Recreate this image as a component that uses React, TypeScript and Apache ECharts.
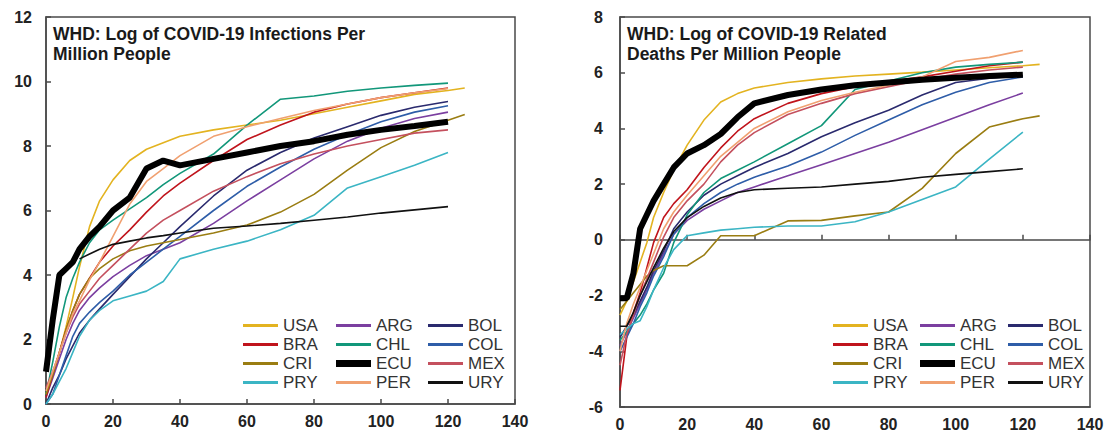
import React, { useEffect, useRef } from "react";
import * as echarts from "echarts";

// Days since first case/death (x axis)
const days = [0, 2, 4, 6, 8, 10, 13, 16, 20, 25, 30, 35, 40, 50, 60, 70, 80, 90, 100, 110, 120, 125];

const xTicks = [0, 20, 40, 60, 80, 100, 120, 140];
const infTicks = [0, 2, 4, 6, 8, 10, 12];
const dthTicks = [-6, -4, -2, 0, 2, 4, 6, 8];

const countries = ["USA", "ARG", "BOL", "BRA", "CHL", "COL", "CRI", "MEX", "PRY", "PER", "URY", "ECU"];

const colors: Record<string, string> = {
  USA: "#E3B320",
  ARG: "#7B3FA0",
  BOL: "#2A2A6E",
  BRA: "#C0141C",
  CHL: "#12977A",
  COL: "#2E5DA8",
  CRI: "#9A7D12",
  ECU: "#000000",
  MEX: "#C4505E",
  PRY: "#3BB5C4",
  PER: "#F0A070",
  URY: "#111111",
};

// Log of infections per million
const infUSA = [0.3, 0.9, 1.6, 2.4, 3.3, 4.25, 5.5, 6.3, 6.95, 7.55, 7.9, 8.1, 8.3, 8.5, 8.65, 8.8, 9.0, 9.2, 9.4, 9.6, 9.72, 9.8];
const infARG = [0.2, 0.8, 1.4, 2.0, 2.5, 2.9, 3.3, 3.6, 3.95, 4.3, 4.6, 4.8, 5.0, 5.6, 6.3, 6.95, 7.6, 8.15, 8.55, 8.85, 9.05, null];
const infBOL = [0.0, 0.5, 0.9, 1.4, 1.8, 2.2, 2.6, 2.95, 3.4, 3.95, 4.5, 5.0, 5.5, 6.45, 7.25, 7.8, 8.25, 8.6, 8.95, 9.2, 9.38, null];
const infBRA = [0.2, 0.9, 1.6, 2.3, 2.9, 3.4, 3.9, 4.4, 4.9, 5.4, 5.95, 6.45, 6.85, 7.55, 8.2, 8.65, 9.05, 9.3, 9.5, 9.65, 9.8, null];
const infCHL = [0.3, 1.3, 2.4, 3.3, 3.9, 4.4, 5.0, 5.4, 5.7, 6.05, 6.4, 6.8, 7.15, 7.75, 8.65, 9.45, 9.55, 9.7, 9.8, 9.88, 9.95, null];
const infCOL = [0.0, 0.3, 0.9, 1.5, 2.1, 2.5, 2.85, 3.15, 3.5, 4.0, 4.4, 4.8, 5.2, 6.0, 6.75, 7.35, 7.9, 8.35, 8.75, 9.05, 9.25, null];
const infCRI = [0.3, 0.9, 1.6, 2.3, 2.9, 3.4, 3.9, 4.2, 4.5, 4.75, 4.9, 5.0, 5.1, 5.3, 5.55, 5.95, 6.5, 7.25, 7.95, 8.45, 8.8, 8.98];
const infECU = [1.0, 2.6, 4.0, 4.2, 4.4, 4.8, 5.2, 5.5, 6.0, 6.4, 7.3, 7.55, 7.4, 7.6, 7.8, 8.0, 8.15, 8.35, 8.5, 8.62, 8.75, null];
const infMEX = [0.5, 1.0, 1.6, 2.2, 2.7, 3.1, 3.5, 3.9, 4.3, 4.8, 5.3, 5.7, 6.0, 6.6, 7.05, 7.45, 7.75, 8.0, 8.2, 8.4, 8.5, null];
const infPRY = [0.0, 0.3, 0.7, 1.1, 1.6, 2.1, 2.6, 2.9, 3.2, 3.35, 3.5, 3.8, 4.5, 4.8, 5.05, 5.4, 5.85, 6.7, 7.05, 7.4, 7.8, null];
const infPER = [0.4, 1.0, 1.6, 2.2, 2.8, 3.2, 3.85, 4.4, 5.2, 6.2, 6.9, 7.3, 7.7, 8.3, 8.6, 8.85, 9.1, 9.3, 9.5, 9.65, 9.78, null];
const infURY = [null, null, null, null, null, 4.5, 4.65, 4.8, 4.95, 5.05, 5.15, 5.22, 5.3, 5.45, 5.52, 5.6, 5.7, 5.8, 5.92, 6.02, 6.12, null];

// Log of related deaths per million
const dthUSA = [-2.7, -2.2, -1.5, -0.8, -0.1, 0.8, 1.7, 2.5, 3.4, 4.3, 4.95, 5.25, 5.45, 5.65, 5.78, 5.88, 5.95, 6.02, 6.1, 6.18, 6.25, 6.3];
const dthARG = [-3.8, -3.3, -2.8, -2.3, -1.8, -1.2, -0.5, 0.2, 0.7, 1.1, 1.4, 1.7, 1.9, 2.3, 2.7, 3.1, 3.5, 3.95, 4.4, 4.85, 5.27, null];
const dthBOL = [-3.5, -3.1, -2.7, -2.2, -1.7, -1.1, -0.4, 0.4, 1.0, 1.6, 2.0, 2.3, 2.6, 3.1, 3.7, 4.2, 4.65, 5.2, 5.65, 5.8, 5.9, null];
const dthBRA = [-5.4, -3.5, -2.6, -1.9, -1.0, -0.1, 0.8, 1.3, 1.8, 2.6, 3.3, 3.9, 4.35, 4.9, 5.25, 5.5, 5.68, 5.85, 6.05, 6.25, 6.38, null];
const dthCHL = [-3.6, -3.3, -3.0, -2.7, -2.3, -1.8, -1.2, -0.1, 0.9, 1.7, 2.2, 2.5, 2.8, 3.45, 4.1, 5.4, 5.7, 6.0, 6.2, 6.3, 6.38, null];
const dthCOL = [-4.0, -3.5, -3.0, -2.4, -1.9, -1.3, -0.6, 0.2, 0.8, 1.3, 1.7, 2.0, 2.25, 2.65, 3.15, 3.75, 4.3, 4.85, 5.3, 5.65, 5.85, null];
const dthCRI = [-2.5, -2.2, -1.9, -1.6, -1.3, -1.1, -0.93, -0.93, -0.93, -0.55, 0.15, 0.15, 0.15, 0.68, 0.7, 0.86, 1.0, 1.85, 3.1, 4.05, 4.35, 4.45];
const dthECU = [-2.1, -2.1, -1.2, 0.4, 0.9, 1.4, 2.0, 2.6, 3.1, 3.4, 3.8, 4.4, 4.9, 5.2, 5.4, 5.55, 5.65, 5.75, 5.82, 5.88, 5.93, null];
const dthMEX = [-4.5, -3.4, -2.7, -2.0, -1.4, -0.8, 0.1, 0.8, 1.4, 2.0, 2.8, 3.4, 3.85, 4.5, 4.9, 5.25, 5.5, 5.75, 5.95, 6.1, 6.2, null];
const dthPRY = [-3.4, -3.2, -3.0, -2.9, -2.4, -1.8, -1.0, -0.35, 0.15, 0.25, 0.35, 0.4, 0.45, 0.5, 0.5, 0.65, 1.0, 1.45, 1.9, 2.9, 3.87, null];
const dthPER = [-4.0, -3.0, -2.3, -1.7, -1.1, -0.5, 0.4, 1.0, 1.6, 2.3, 3.0, 3.5, 4.0, 4.6, 5.0, 5.3, 5.55, 5.85, 6.4, 6.55, 6.8, null];
const dthURY = [-3.1, -3.1, -2.6, -2.0, -1.5, -1.0, -0.3, 0.3, 0.8, 1.2, 1.5, 1.7, 1.8, 1.85, 1.9, 2.0, 2.1, 2.25, 2.35, 2.45, 2.55, null];

const infData: Record<string, (number | null)[]> = {
  USA: infUSA, ARG: infARG, BOL: infBOL, BRA: infBRA, CHL: infCHL, COL: infCOL,
  CRI: infCRI, ECU: infECU, MEX: infMEX, PRY: infPRY, PER: infPER, URY: infURY,
};
const dthData: Record<string, (number | null)[]> = {
  USA: dthUSA, ARG: dthARG, BOL: dthBOL, BRA: dthBRA, CHL: dthCHL, COL: dthCOL,
  CRI: dthCRI, ECU: dthECU, MEX: dthMEX, PRY: dthPRY, PER: dthPER, URY: dthURY,
};

const legendCols = [
  ["USA", "BRA", "CRI", "PRY"],
  ["ARG", "CHL", "ECU", "PER"],
  ["BOL", "COL", "MEX", "URY"],
];

const FONT = "'Liberation Sans', Arial, Helvetica, sans-serif";
const AXIS_COLOR = "#4a4a4a";
const THIN_ICON = "path://M0,0L35,0L35,3L0,3Z";
const THICK_ICON = "path://M0,0L35,0L35,7L0,7Z";

function toPairs(vals: (number | null)[]) {
  const out: [number, number][] = [];
  vals.forEach((v, i) => {
    if (v !== null && v !== undefined) out.push([days[i], v]);
  });
  return out;
}

export default function App() {
  const ref = useRef<HTMLDivElement>(null);

  useEffect(() => {
    document.body.style.margin = "0";
    if (!ref.current) return;
    const chart = echarts.init(ref.current, undefined, { renderer: "svg" });

    const axisLabel = {
      fontFamily: FONT,
      fontSize: 16,
      fontWeight: "bold" as const,
      color: "#222",
    };
    const lineStyle = { color: AXIS_COLOR, width: 1.5 };

    const series: any[] = [];
    countries.forEach((c) => {
      const isECU = c === "ECU";
      const w = isECU ? 6 : 1.6;
      series.push({
        name: c,
        type: "line",
        xAxisIndex: 0,
        yAxisIndex: 0,
        data: toPairs(infData[c]),
        symbol: "none",
        silent: true,
        z: isECU ? 5 : 2,
        lineStyle: { color: colors[c], width: w },
        itemStyle: { color: colors[c] },
      });
      series.push({
        name: c,
        type: "line",
        xAxisIndex: 1,
        yAxisIndex: 1,
        data: toPairs(dthData[c]),
        symbol: "none",
        silent: true,
        z: isECU ? 5 : 2,
        lineStyle: { color: colors[c], width: w },
        itemStyle: { color: colors[c] },
      });
    });

    const legendLefts = [243, 336, 428, 833, 920, 1008];
    const legends: any[] = [];
    legendLefts.forEach((left, i) => {
      const col = legendCols[i % 3];
      legends.push({
        orient: "vertical",
        left,
        top: 317,
        itemWidth: 35,
        itemHeight: 12,
        itemGap: 2,
        padding: 0,
        symbolKeepAspect: true,
        selectedMode: false,
        textStyle: { fontFamily: FONT, fontSize: 17, color: "#333" },
        data: col.map((name) => ({
          name,
          icon: name === "ECU" ? THICK_ICON : THIN_ICON,
          itemStyle: { color: colors[name], borderWidth: 0 },
        })),
      });
    });

    const option: any = {
      animation: false,
      backgroundColor: "#ffffff",
      title: [
        {
          text: "WHD: Log of COVID-19 Infections Per\nMillion People",
          left: 53,
          top: 24,
          padding: 0,
          textStyle: { fontFamily: FONT, fontSize: 17.5, fontWeight: "bold", color: "#1a1a1a", lineHeight: 20 },
        },
        {
          text: "WHD: Log of COVID-19 Related\nDeaths Per Million People",
          left: 627,
          top: 24,
          padding: 0,
          textStyle: { fontFamily: FONT, fontSize: 17.5, fontWeight: "bold", color: "#1a1a1a", lineHeight: 20 },
        },
      ],
      legend: legends,
      grid: [
        { left: 46, top: 17, width: 469, height: 387, show: true, borderColor: AXIS_COLOR, borderWidth: 1.5, containLabel: false },
        { left: 620, top: 17, width: 470, height: 390, show: true, borderColor: AXIS_COLOR, borderWidth: 1.5, containLabel: false },
      ],
      xAxis: [
        {
          gridIndex: 0,
          type: "value",
          min: xTicks[0],
          max: xTicks[xTicks.length - 1],
          interval: 20,
          position: "bottom",
          axisLine: { show: true, onZero: false, lineStyle },
          axisTick: { show: true, inside: true, length: 5, lineStyle },
          axisLabel: { ...axisLabel, margin: 9 },
          splitLine: { show: false },
        },
        {
          gridIndex: 1,
          type: "value",
          min: xTicks[0],
          max: xTicks[xTicks.length - 1],
          interval: 20,
          position: "bottom",
          axisLine: { show: true, onZero: false, lineStyle },
          axisTick: { show: false },
          axisLabel: { ...axisLabel, margin: 9 },
          splitLine: { show: false },
        },
        {
          gridIndex: 1,
          type: "value",
          min: xTicks[0],
          max: xTicks[xTicks.length - 1],
          interval: 20,
          position: "bottom",
          axisLine: { show: true, onZero: true, lineStyle },
          axisTick: { show: true, inside: true, length: 5, lineStyle },
          axisLabel: { show: false },
          splitLine: { show: false },
        },
      ],
      yAxis: [
        {
          gridIndex: 0,
          type: "value",
          min: infTicks[0],
          max: infTicks[infTicks.length - 1],
          interval: 2,
          axisLine: { show: true, onZero: false, lineStyle },
          axisTick: { show: true, inside: true, length: 5, lineStyle },
          axisLabel: { ...axisLabel, margin: 14 },
          splitLine: { show: false },
        },
        {
          gridIndex: 1,
          type: "value",
          min: dthTicks[0],
          max: dthTicks[dthTicks.length - 1],
          interval: 2,
          axisLine: { show: true, onZero: false, lineStyle },
          axisTick: { show: true, inside: true, length: 5, lineStyle },
          axisLabel: { ...axisLabel, margin: 17 },
          splitLine: { show: false },
        },
      ],
      series,
    };

    chart.setOption(option);
    return () => chart.dispose();
  }, []);

  return <div ref={ref} style={{ width: 1107, height: 433 }} />;
}
